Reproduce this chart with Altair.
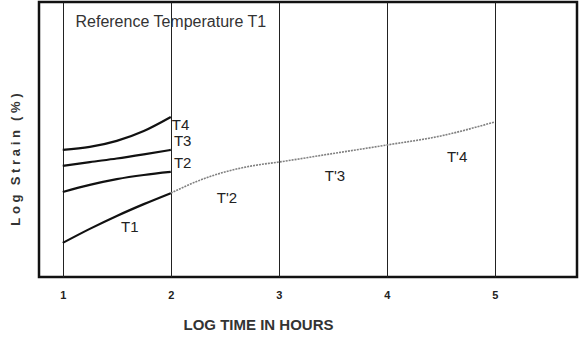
import altair as alt
import pandas as pd

# Strain curves at the individual temperatures (log time, log strain in relative units)
t_time = [1.0, 1.25, 1.5, 1.75, 2.0]
t1_strain = [12.4, 17.5, 22.2, 26.5, 30.5]
t2_strain = [30.9, 33.5, 35.6, 37.1, 38.2]
t3_strain = [40.4, 41.8, 43.1, 44.6, 46.2]
t4_strain = [46.2, 47.3, 49.5, 53.1, 58.2]

# Shifted master curve (dotted)
master_time = [2.0, 2.25, 2.5, 2.75, 3.0, 3.5, 4.0, 4.5, 5.0]
master_strain = [30.5, 34.9, 38.2, 40.4, 41.8, 44.9, 48.0, 51.3, 56.4]

# Curve labels
label_text = ["T4", "T3", "T2", "T1", "T'2", "T'3", "T'4"]
label_x = [2.09, 2.11, 2.11, 1.62, 2.52, 3.52, 4.65]
label_y = [55.3, 49.5, 41.5, 18.2, 28.7, 36.7, 43.6]

x_ticks = [1, 2, 3, 4, 5]

FONT = "Liberation Sans"

rows = []
for name, vals in [("T1", t1_strain), ("T2", t2_strain), ("T3", t3_strain), ("T4", t4_strain)]:
    for t, s in zip(t_time, vals):
        rows.append({"series": name, "time": t, "strain": s})
curves = pd.DataFrame(rows)
master = pd.DataFrame({"time": master_time, "strain": master_strain})
labels = pd.DataFrame({"text": label_text, "time": label_x, "strain": label_y})

x_scale = alt.Scale(domain=[0.78, 5.76], nice=False, zero=False)
y_scale = alt.Scale(domain=[0, 100], nice=False, zero=False)

# spaced-out y title (letter gaps, wider word gaps)
gap = "\u2009\u200a"
y_title = "\u2002\u2009".join(gap.join(word) for word in ["Log", "Strain", "(%)"])

x_enc = alt.X(
    "time:Q", scale=x_scale,
    axis=alt.Axis(
        values=x_ticks, format="d", title="LOG TIME IN HOURS", grid=True, gridColor="#222",
        gridWidth=1, gridOpacity=1, ticks=False, domain=False, labelFontSize=11,
        labelFontWeight="bold", labelPadding=12, labelColor="#222",
        titleFontSize=15, titleFontWeight="bold", titlePadding=17, titleColor="#333",
        titleFont=FONT, labelFont=FONT, titleX=219,
    ),
)
y_enc = alt.Y(
    "strain:Q", scale=y_scale,
    axis=alt.Axis(
        title=y_title, labels=False, ticks=False, domain=False,
        grid=False, titleFontSize=13, titleFontWeight="bold", titlePadding=17,
        titleColor="#333", titleFont=FONT, titleY=157,
    ),
)

lines = alt.Chart(curves).mark_line(color="#111", strokeWidth=2.2, interpolate="monotone").encode(
    x=x_enc, y=y_enc, detail="series:N"
)

dotted = alt.Chart(master).mark_line(
    color="#808080", strokeWidth=1.6, strokeDash=[2, 1], interpolate="monotone"
).encode(x="time:Q", y="strain:Q")

text = alt.Chart(labels).mark_text(
    fontSize=15, font=FONT, color="#222", align="center", baseline="middle"
).encode(x="time:Q", y="strain:Q", text="text:N")

ref_title = alt.Chart(pd.DataFrame({"time": [2.0], "strain": [92.7], "text": ["Reference Temperature T1"]})).mark_text(
    fontSize=16, font=FONT, color="#333", align="center", baseline="middle"
).encode(x="time:Q", y="strain:Q", text="text:N")

chart = (
    alt.layer(lines, dotted, text, ref_title)
    .properties(
        width=538, height=275,
        autosize=alt.AutoSizeParams(type="none"),
        padding={"left": 39, "top": 2, "right": 2, "bottom": 62},
        background="white",
    )
    .configure_view(stroke="#111", strokeWidth=2.5)
)

chart.save("out.html", embed_options={"renderer": "svg", "actions": False})
